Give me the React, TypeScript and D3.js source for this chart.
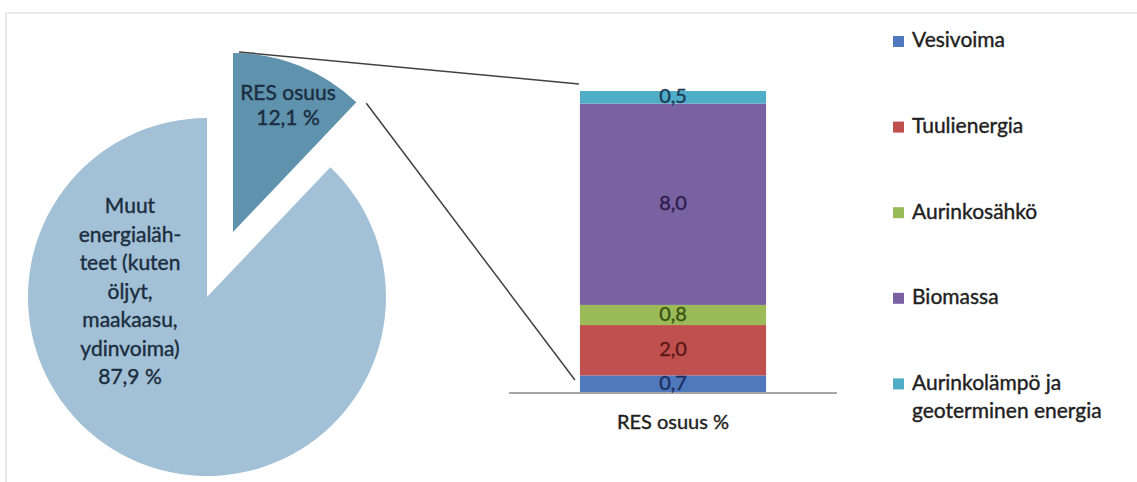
import React from "react";
import * as d3 from "d3";

const pieLabels = ["RES osuus", "Muut"];
const pieValues = [12.1, 87.9];
const pieTexts = [
  ["RES osuus", "12,1 %"],
  ["Muut", "energialäh-", "teet (kuten", "öljyt,", "maakaasu,", "ydinvoima)", "87,9 %"],
];
const barCategories = ["RES osuus %"];
const seriesNames = ["Vesivoima", "Tuulienergia", "Aurinkosähkö", "Biomassa", "Aurinkolämpö ja geoterminen energia"];
const seriesValues = [0.7, 2.0, 0.8, 8.0, 0.5];
const seriesLabels = ["0,7", "2,0", "0,8", "8,0", "0,5"];
const legendLines = [["Vesivoima"], ["Tuulienergia"], ["Aurinkosähkö"], ["Biomassa"], ["Aurinkolämpö ja", "geoterminen energia"]];

const seriesColors = ["#5079bd", "#c0504d", "#9bbb59", "#7a62a2", "#4fadc8"];
const labelColors = ["#1c2f5e", "#5a1818", "#3a5512", "#2d1d4a", "#1b3c57"];
const pieColors = ["#5e92ad", "#a3c1d6"];
const FONT = "Lato, 'Open Sans', sans-serif";

export default function App() {
  const W = 1137, H = 482;
  const cx = 207, cy = 297, R = 179, explode = 70;

  const pie = d3.pie<number>().sort(null).startAngle(0).endAngle(2 * Math.PI)(pieValues);
  const arc = d3.arc<d3.PieArcDatum<number>>().innerRadius(0).outerRadius(R);

  const x = d3.scaleBand().domain(barCategories).range([509, 837]).padding(0.276);
  const y = d3.scaleLinear().domain([0, 12]).range([393, 91]);
  const stackData = [Object.fromEntries(seriesNames.map((k, i) => [k, seriesValues[i]]))];
  const stack = d3.stack<any>().keys(seriesNames)(stackData);

  const res = pie[0];
  const mid = (res.startAngle + res.endAngle) / 2;
  const ox = cx + explode * Math.sin(mid);
  const oy = cy - explode * Math.cos(mid);
  const p1 = [ox + R * Math.sin(res.startAngle), oy - R * Math.cos(res.startAngle)];
  const p2 = [ox + R * Math.sin(res.endAngle), oy - R * Math.cos(res.endAngle)];
  const bx = x(barCategories[0])!;
  const bw = x.bandwidth();

  return (
    <svg width={W} height={H} style={{ position: "absolute", left: 0, top: 0, background: "#fff" }}>
      <line x1={6} y1={13} x2={W} y2={13} stroke="#e2e2e2" strokeWidth={1.5} />
      <line x1={6} y1={13} x2={6} y2={H} stroke="#e2e2e2" strokeWidth={1.5} />

      {pie.map((d, i) => {
        const m = (d.startAngle + d.endAngle) / 2;
        const dx = i === 0 ? explode * Math.sin(m) : 0;
        const dy = i === 0 ? -explode * Math.cos(m) : 0;
        return (
          <path key={pieLabels[i]} d={arc(d) || ""} transform={`translate(${cx + dx},${cy + dy})`} fill={pieColors[i]} />
        );
      })}

      {/* pie labels */}
      <g fontFamily={FONT} fontSize={21} fill="#1b2d40" stroke="#1b2d40" strokeWidth={0.4} textAnchor="middle">
        {pieTexts[0].map((t, j) => (
          <text key={t} x={ox + 55} y={oy - 137 + j * 25} dominantBaseline="middle">{t}</text>
        ))}
        {pieTexts[1].map((t, j) => (
          <text key={t} x={cx - 77} y={cy - 89 + j * 28.5} dominantBaseline="middle">{t}</text>
        ))}
      </g>

      {/* connector lines */}
      <line x1={p1[0] + 6} y1={p1[1] - 1} x2={bx - 1} y2={y(12) - 7} stroke="#404040" strokeWidth={1.5} />
      <line x1={p2[0] + 10} y1={p2[1] + 1} x2={bx - 5} y2={y(0) - 13} stroke="#404040" strokeWidth={1.5} />

      {/* stacked bar */}
      {stack.map((s, i) => (
        <rect key={s.key} x={bx} width={bw} y={y(s[0][1])} height={y(s[0][0]) - y(s[0][1])} fill={seriesColors[i]} />
      ))}
      <line x1={509} x2={837} y1={y(0)} y2={y(0)} stroke="#a6a6a6" strokeWidth={2} />
      <g fontFamily={FONT} fontSize={20} textAnchor="middle" strokeWidth={0.4}>
        {stack.map((s, i) => (
          <text key={s.key} x={bx + bw / 2} y={(y(s[0][0]) + y(s[0][1])) / 2 + 1} dominantBaseline="middle" fill={labelColors[i]} stroke={labelColors[i]}>
            {seriesLabels[i]}
          </text>
        ))}
        <text x={bx + bw / 2} y={424} dominantBaseline="middle" fill="#1f1f1f" stroke="#1f1f1f">{barCategories[0]}</text>
      </g>

      {/* legend */}
      <g fontFamily={FONT} fontSize={21} fill="#1f1f1f" stroke="#1f1f1f" strokeWidth={0.4}>
        {legendLines.map((lines, i) => {
          const ly = 42 + i * 85.6;
          return (
            <g key={seriesNames[i]}>
              <rect x={893} y={ly - 6} width={11} height={11} fill={seriesColors[i]} stroke="none" />
              {lines.map((t, j) => (
                <text key={t} x={912} y={ly + j * 28} dominantBaseline="middle">{t}</text>
              ))}
            </g>
          );
        })}
      </g>
    </svg>
  );
}
